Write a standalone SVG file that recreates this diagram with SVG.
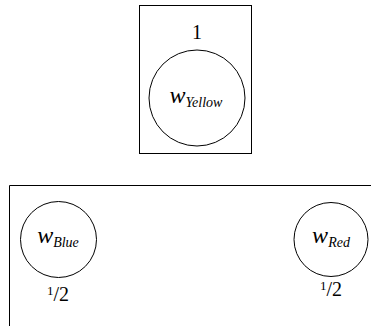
<svg xmlns="http://www.w3.org/2000/svg" width="371" height="326" viewBox="0 0 371 326">
<style>
.box{fill:none;stroke:#000;stroke-width:1}
.c{fill:#fff;stroke:#000;stroke-width:1}
text{font-family:'Liberation Serif','DejaVu Serif',serif;fill:#000}
.w{font-style:italic;font-size:24px}
.s{font-style:italic;font-size:14px}
.n{font-size:20px}
.f{font-size:13px}
</style>
<rect width="371" height="326" fill="#fff"/>
<g id="top-plate">
<rect class="box" x="139.5" y="5.5" width="112" height="148"/>
<text class="n" x="197" y="39" text-anchor="middle" font-family="Liberation Serif, serif">1</text>
</g>
<g id="w_yellow">
<circle class="c" cx="197" cy="98" r="48"/>
<text x="196" y="103" text-anchor="middle" font-family="Liberation Serif, serif"><tspan class="w">w</tspan><tspan class="s" dy="4">Yellow</tspan></text>
</g>
<g id="bottom-plate">
<polyline class="box" points="9.5,326 9.5,185.5 371,185.5"/>
</g>
<g id="w_blue">
<circle class="c" cx="58.5" cy="239.5" r="38"/>
<text x="58" y="243" text-anchor="middle" font-family="Liberation Serif, serif"><tspan class="w">w</tspan><tspan class="s" dy="4">Blue</tspan></text>
<text x="58" y="301" text-anchor="middle" font-family="Liberation Serif, serif"><tspan class="f" dy="-6">1</tspan><tspan class="n" dy="6">/2</tspan></text>
</g>
<g id="w_red">
<circle class="c" cx="331" cy="239.5" r="37"/>
<text x="331" y="243" text-anchor="middle" font-family="Liberation Serif, serif"><tspan class="w">w</tspan><tspan class="s" dy="4">Red</tspan></text>
<text x="331" y="296" text-anchor="middle" font-family="Liberation Serif, serif"><tspan class="f" dy="-6">1</tspan><tspan class="n" dy="6">/2</tspan></text>
</g>
<g id="connectors"/>
</svg>
